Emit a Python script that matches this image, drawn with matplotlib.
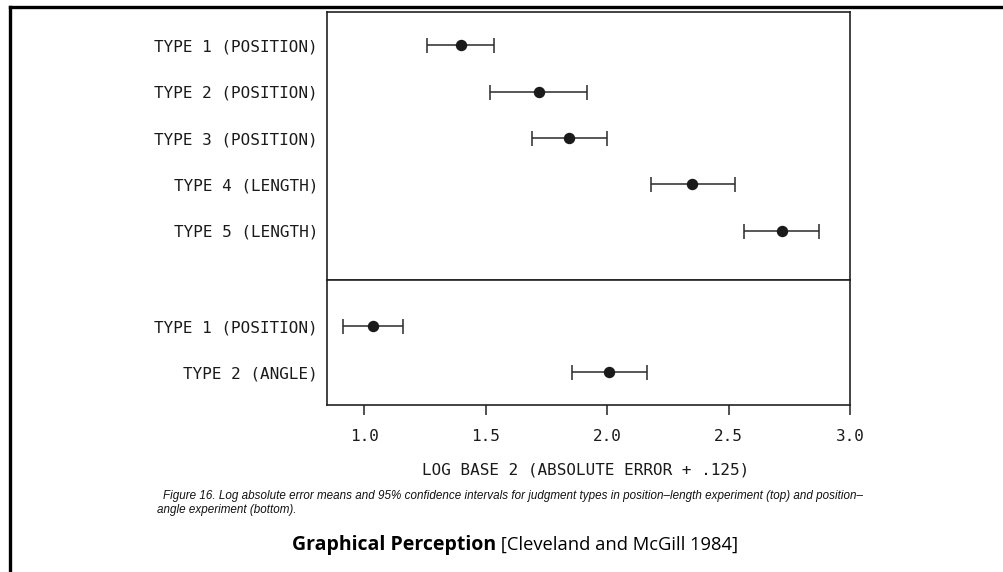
import matplotlib
matplotlib.use("Agg")
import matplotlib.pyplot as plt
from matplotlib.lines import Line2D

# ---- data ----
top_labels = ["TYPE 1 (POSITION)", "TYPE 2 (POSITION)", "TYPE 3 (POSITION)",
              "TYPE 4 (LENGTH)", "TYPE 5 (LENGTH)"]
top_mean = [1.397, 1.719, 1.842, 2.351, 2.718]
top_low = [1.259, 1.519, 1.691, 2.179, 2.563]
top_high = [1.534, 1.918, 1.998, 2.525, 2.872]

bot_labels = ["TYPE 1 (POSITION)", "TYPE 2 (ANGLE)"]
bot_mean = [1.037, 2.007]
bot_low = [0.914, 1.856]
bot_high = [1.160, 2.165]

xticks = [1.0, 1.5, 2.0, 2.5, 3.0]
xtick_labels = ["1.0", "1.5", "2.0", "2.5", "3.0"]
xlabel = "LOG BASE 2 (ABSOLUTE ERROR + .125)"
caption1 = ("Figure 16. Log absolute error means and 95% confidence intervals for judgment "
            "types in position\u2013length experiment (top) and position\u2013")
caption2 = "angle experiment (bottom)."
title_bold = "Graphical Perception"
title_rest = " [Cleveland and McGill 1984]"

W, H = 1004, 572
fig = plt.figure(figsize=(W / 100, H / 100), dpi=100)
fig.patch.set_facecolor("white")

mono = "DejaVu Sans Mono"
ink = "#1a1a1a"
fs_mono = 11.5


def fx(px):
    return px / W


def fy(py):
    return 1 - py / H


ax_left, ax_right = 327, 850
ax_top, ax_div, ax_bot = 12, 280, 405
ax1 = fig.add_axes([fx(ax_left), fy(ax_div), fx(ax_right - ax_left), (ax_div - ax_top) / H])
ax2 = fig.add_axes([fx(ax_left), fy(ax_bot), fx(ax_right - ax_left), (ax_bot - ax_div) / H])

xlim = (0.8464, 3.0)


def panel(ax, labels, mean, low, high, ylim):
    pos = list(range(len(labels)))
    err = [[m - l for m, l in zip(mean, low)], [h - m for m, h in zip(mean, high)]]
    ax.errorbar(mean, pos, xerr=err, fmt="o", color=ink, ecolor="#2a2a2a",
                elinewidth=1.1, capsize=5.4, capthick=1.1, markersize=7.2)
    ax.set_xlim(*xlim)
    ax.set_ylim(*ylim)
    ax.set_yticks(pos)
    ax.set_yticklabels(labels, fontfamily=mono, fontsize=fs_mono, color=ink)
    ax.tick_params(axis="y", length=0, pad=6.5)
    for s in ax.spines.values():
        s.set_linewidth(1.2)
        s.set_color("#222222")


panel(ax1, top_labels, top_mean, top_low, top_high, (5.054, -0.71))
panel(ax2, bot_labels, bot_mean, bot_low, bot_high, (1.717, -1.0))

ax1.set_xticks([])
ax2.set_xticks(xticks)
ax2.set_xticklabels(xtick_labels, fontfamily=mono, fontsize=fs_mono, color=ink)
ax2.tick_params(axis="x", direction="out", length=7, width=1.1, pad=10, color="#222222")

fig.text(fx(586), fy(470), xlabel, ha="center", va="center",
         fontfamily=mono, fontsize=fs_mono, color=ink)

fig.text(fx(163), fy(496), caption1, ha="left", va="center",
         fontfamily="Liberation Sans", style="italic", fontsize=8.4, color="#111111")
fig.text(fx(157), fy(510), caption2, ha="left", va="center",
         fontfamily="Liberation Sans", style="italic", fontsize=8.4, color="#111111")

# title: bold part followed by regular part
renderer = fig.canvas.get_renderer()
t1 = fig.text(fx(292), fy(545), title_bold, ha="left", va="center",
              fontfamily="Open Sans", fontweight="bold", fontsize=14, color="black")
bb = t1.get_window_extent(renderer=renderer)
fig.text(bb.x1 / W, fy(545), title_rest, ha="left", va="center",
         fontfamily="Open Sans", fontsize=13.2, color="black")

# outer frame (top and left edges visible)
fig.add_artist(Line2D([fx(10), 1.0], [fy(7), fy(7)], color="black", linewidth=2.4,
                      transform=fig.transFigure))
fig.add_artist(Line2D([fx(10), fx(10)], [fy(7), 0.0], color="black", linewidth=2.4,
                      transform=fig.transFigure))

fig.savefig("out.png", dpi=100, facecolor="white")
